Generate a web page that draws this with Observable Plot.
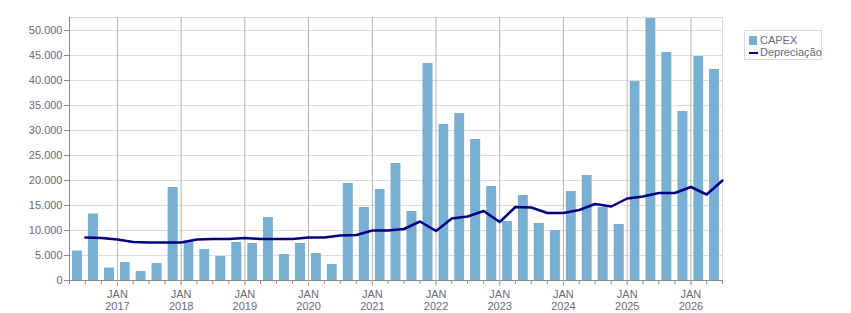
<!DOCTYPE html>
<html>
<head>
<meta charset="utf-8">
<script src="https://cdn.jsdelivr.net/npm/d3@7"></script>
<script src="https://cdn.jsdelivr.net/npm/@observablehq/plot@0.6"></script>
<style>
  body { margin: 0; background: #fff; font-family: "Liberation Sans", Arial, sans-serif; }
  #wrap { position: relative; width: 851px; height: 313px; }
  .legend { position: absolute; left: 744px; top: 30px; width: 78px; height: 30px; box-sizing: border-box;
            border: 1px solid #dcdcdc; font-size: 11px; color: #6a6a7a; background: #fff; }
  .legend .row { position: absolute; left: 0; height: 13px; line-height: 13px; white-space: nowrap; }
  .legend .sw { position: absolute; left: 4px; }
  .legend .lbl { position: absolute; left: 15px; top: 0; }
</style>
</head>
<body>
<div id="wrap"></div>
<script>
// Quarters (start month of each quarter), Q2 2016 .. Q2 2026
const quarters = [
  "2016-04","2016-07","2016-10",
  "2017-01","2017-04","2017-07","2017-10",
  "2018-01","2018-04","2018-07","2018-10",
  "2019-01","2019-04","2019-07","2019-10",
  "2020-01","2020-04","2020-07","2020-10",
  "2021-01","2021-04","2021-07","2021-10",
  "2022-01","2022-04","2022-07","2022-10",
  "2023-01","2023-04","2023-07","2023-10",
  "2024-01","2024-04","2024-07","2024-10",
  "2025-01","2025-04","2025-07","2025-10",
  "2026-01","2026-04"
];
const capex = [
  5900, 13300, 2500,
  3600, 1800, 3400, 18600,
  7900, 6200, 4800, 7600,
  7400, 12600, 5200, 7400,
  5400, 3200, 19400, 14600,
  18200, 23400, 13800, 43400,
  31200, 33400, 28200, 18800,
  11800, 17000, 11400, 10000,
  17800, 21000, 14600, 11200,
  39800, 52400, 45600, 33800,
  44800, 42200
];
// Depreciation, plotted at the end of each quarter
const depreciacao = [
  8600, 8500, 8200,
  7700, 7600, 7600, 7600,
  8200, 8300, 8300, 8500,
  8300, 8300, 8300, 8600,
  8600, 9000, 9100, 10000,
  10000, 10300, 11800, 9900,
  12400, 12800, 13900, 11700,
  14700, 14600, 13500, 13500,
  14100, 15300, 14800, 16400,
  16800, 17500, 17500, 18700,
  17200, 20000
];
const yTicks = [0, 5000, 10000, 15000, 20000, 25000, 30000, 35000, 40000, 45000, 50000];
const yearLabels = ["2017","2018","2019","2020","2021","2022","2023","2024","2025","2026"];
const monthLabel = "JAN";
const seriesNames = ["CAPEX", "Depreciação"];

const parseMonth = d3.utcParse("%Y-%m");
const data = quarters.map((q, i) => {
  const start = parseMonth(q);
  const end = d3.utcMonth.offset(start, 3);
  return { start, end, capex: capex[i], dep: depreciacao[i] };
});
const xDomain = [data[0].start, data[data.length - 1].end];
const quarterTicks = [data[0].start, ...data.map(d => d.end)];
const janTicks = yearLabels.map(y => parseMonth(y + "-01"));
const fmt = v => d3.format(",")(v).replace(/,/g, ".");

const axisGray = "#8a8a8a";
const textGray = "#6a6a7a";

const chart = Plot.plot({
  width: 851,
  height: 313,
  marginLeft: 69,
  marginRight: 129,
  marginTop: 17,
  marginBottom: 33,
  style: { fontFamily: "Liberation Sans, Arial, sans-serif", fontSize: "11px", background: "#fff" },
  x: { type: "utc", domain: xDomain },
  y: { domain: [0, 52600] },
  marks: [
    Plot.gridY(yTicks, { stroke: "#dcdcdc", strokeOpacity: 1 }),
    Plot.frame({ stroke: "#dcdcdc" }),
    Plot.gridX(janTicks, { stroke: "#b4b4b4", strokeOpacity: 1 }),
    Plot.rectY(data, { x1: "start", x2: "end", y: "capex", fill: "#78b0d3", insetLeft: 3, insetRight: 3 }),
    Plot.line(data, { x: "end", y: "dep", stroke: "#000080", strokeWidth: 2.5 }),
    Plot.ruleX([xDomain[0]], { stroke: axisGray }),
    Plot.ruleY([0], { stroke: axisGray }),
    Plot.axisY({ ticks: yTicks, tickFormat: fmt, tickSize: 5, tickPadding: 2, stroke: axisGray, fill: textGray, label: null }),
    Plot.axisX({ ticks: quarterTicks, tickSize: 4, tickFormat: () => "", stroke: axisGray, label: null }),
    Plot.axisX({ ticks: janTicks, tickSize: 6, tickPadding: 3, stroke: "#b4b4b4", fill: textGray,
                 tickFormat: (d, i) => monthLabel + "\n" + yearLabels[i], lineHeight: 1.1, label: null })
  ]
});

const wrap = document.getElementById("wrap");
wrap.appendChild(chart);

const legend = document.createElement("div");
legend.className = "legend";
legend.innerHTML =
  `<div class="row" style="top:3px;width:76px"><span class="sw" style="top:2px;width:8px;height:9px;background:#78b0d3"></span><span class="lbl">${seriesNames[0]}</span></div>` +
  `<div class="row" style="top:15px;width:76px"><span class="sw" style="top:6px;width:9px;height:2px;background:#000080"></span><span class="lbl">${seriesNames[1]}</span></div>`;
wrap.appendChild(legend);
</script>
</body>
</html>
